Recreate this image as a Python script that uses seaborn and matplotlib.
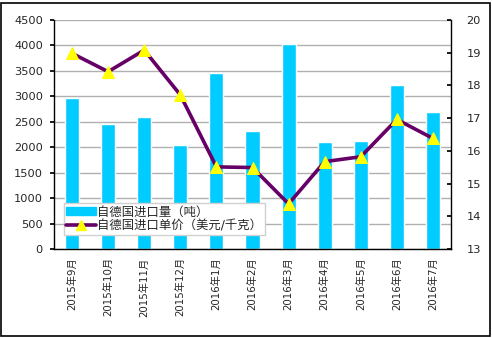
import numpy as np
import pandas as pd
import matplotlib
matplotlib.use("Agg")
import matplotlib.pyplot as plt
import seaborn as sns
from matplotlib.patches import Patch, Rectangle
from matplotlib.lines import Line2D

months = ["2015年9月", "2015年10月", "2015年11月", "2015年12月", "2016年1月", "2016年2月",
          "2016年3月", "2016年4月", "2016年5月", "2016年6月", "2016年7月"]
volume = [2970, 2450, 2600, 2050, 3465, 2320, 4035, 2100, 2120, 3225, 2690]
price = [18.98, 18.42, 19.08, 17.71, 15.51, 15.49, 14.38, 15.67, 15.82, 16.96, 16.38]
vol_label = "自德国进口量（吨）"
price_label = "自德国进口单价（美元/千克）"
left_ticks = [0, 500, 1000, 1500, 2000, 2500, 3000, 3500, 4000, 4500]
right_ticks = [13, 14, 15, 16, 17, 18, 19, 20]

sns.set_theme(style="white")
plt.rcParams['font.family'] = ['DejaVu Sans', 'Noto Sans CJK SC']
plt.rcParams['axes.unicode_minus'] = False

bar_color = "#00CCFF"
line_color = "#660066"

fig = plt.figure(figsize=(4.92, 3.38), dpi=100)
ax = fig.add_axes([54/492, 1 - 249/338, 397/492, 229/338])

df = pd.DataFrame({"month": months, "volume": volume, "price": price})
sns.barplot(data=df, x="month", y="volume", color=bar_color, saturation=1,
            width=0.39, ax=ax, zorder=2)
ax.set_ylim(0, 4500)
ax.set_yticks(left_ticks)
ax.set_xlim(-0.5, len(months) - 0.5)
ax.yaxis.grid(True, color="#B0B0B0", linewidth=1, zorder=0)
ax.set_axisbelow(True)
ax.set_xlabel("")
ax.set_ylabel("")
ax.set_xticks(range(len(months)))
ax.set_xticklabels(months, rotation=90, fontsize=7.4)
ax.tick_params(axis="x", length=0, pad=6)
ax.set_xticks(np.arange(-0.5, len(months), 1), minor=True)
ax.tick_params(axis="x", which="minor", direction="in", length=4, color="black", width=1)
ax.tick_params(axis="y", direction="out", length=3, color="black", labelsize=8.2, pad=5)
for s in ["left", "bottom"]:
    ax.spines[s].set_color("black")
    ax.spines[s].set_linewidth(1)
ax.spines["top"].set_visible(False)
ax.spines["right"].set_visible(False)

ax2 = ax.twinx()
sns.lineplot(x=np.arange(len(months)), y=price, ax=ax2, color=line_color, linewidth=2.6,
             marker="^", markersize=9, markerfacecolor="#FFFF00", markeredgecolor="#FFFF00",
             zorder=3)
ax2.set_ylim(13, 20)
ax2.set_yticks(right_ticks)
ax2.set_ylabel("")
ax2.tick_params(axis="y", direction="in", length=3, color="black", labelsize=8.2, pad=11)
ax2.spines["right"].set_color("black")
ax2.spines["right"].set_linewidth(1)
for s in ["top", "left", "bottom"]:
    ax2.spines[s].set_visible(False)
ax2.grid(False)
ax2.set_xlim(-0.5, len(months) - 0.5)

handles = [Patch(facecolor=bar_color, edgecolor=bar_color),
           Line2D([0], [0], color=line_color, linewidth=2.6, marker="^", markersize=7,
                  markerfacecolor="#FFFF00", markeredgecolor="#FFFF00")]
leg = ax2.legend(handles, [vol_label, price_label], loc="upper left",
                 bbox_to_anchor=((64 - 54) / 397, (249 - 203) / 229), borderaxespad=0,
                 fontsize=8.9, frameon=True, fancybox=False, handlelength=2.4,
                 handleheight=0.6, handletextpad=0.1, borderpad=0.2, labelspacing=0.05)
leg.get_frame().set_edgecolor("#D0D0D0")
leg.get_frame().set_linewidth(1)
leg.get_frame().set_facecolor("white")
leg.get_frame().set_alpha(1)

fig.patches.append(Rectangle((1/492, 2/338), 489/492, 333/338, transform=fig.transFigure,
                             fill=False, edgecolor="black", linewidth=1.2))

fig.savefig("out.png", dpi=100)
